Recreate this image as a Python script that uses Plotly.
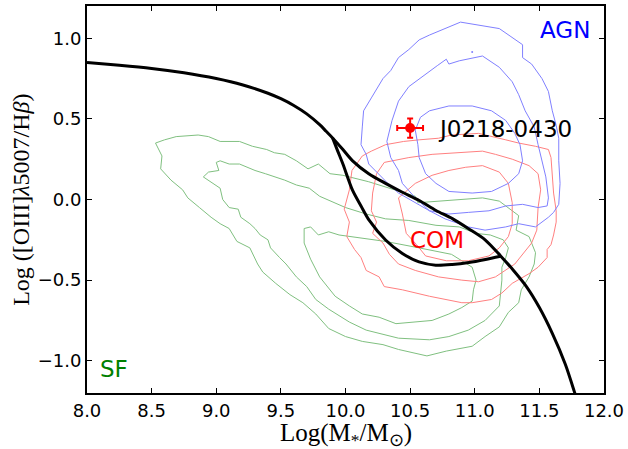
import plotly.graph_objects as go

# ---------------- data ----------------
# MEx demarcation curves
upper_x = [8.00, 8.25, 8.50, 8.75, 9.00, 9.20, 9.40, 9.50, 9.60, 9.70, 9.80, 9.85, 9.90,
           9.98, 10.055, 10.18, 10.31, 10.44, 10.57, 10.70, 10.83, 10.95, 11.08, 11.20,
           11.30, 11.40, 11.50, 11.60, 11.70, 11.77, 11.80]
upper_y = [0.850, 0.833, 0.813, 0.786, 0.750, 0.712, 0.659, 0.625, 0.583, 0.531, 0.464,
           0.423, 0.382, 0.31, 0.24, 0.16, 0.10, 0.045, -0.006, -0.068, -0.12, -0.18,
           -0.25, -0.35, -0.44, -0.54, -0.67, -0.83, -1.02, -1.19, -1.27]
lower_x = [9.90, 9.94, 9.98, 10.055, 10.12, 10.184, 10.312, 10.44, 10.569, 10.698, 10.826,
           10.955, 11.083, 11.20]
lower_y = [0.382, 0.30, 0.22, 0.056, -0.04, -0.13, -0.253, -0.335, -0.387, -0.407, -0.403,
           -0.391, -0.372, -0.352]

# SF (green) contours
sf1_x = [8.53, 8.58, 8.57, 8.65, 8.74, 8.78, 8.87, 8.96, 9.03, 9.10, 9.16, 9.26, 9.32, 9.36,
         9.46, 9.57, 9.67, 9.77, 9.87, 10.00, 10.13, 10.29, 10.41, 10.63, 10.78, 10.98,
         11.08, 11.19, 11.26, 11.34, 11.36, 11.42, 11.46, 11.47, 11.42, 11.32, 11.34, 11.29,
         11.19, 11.06, 10.88, 10.70, 10.56, 10.54, 10.31, 10.18, 9.98, 9.88, 9.79, 9.71,
         9.62, 9.53, 9.45, 9.39, 9.28, 9.18, 9.03, 8.94, 8.86, 8.69, 8.60, 8.53]
sf1_y = [0.35, 0.27, 0.19, 0.12, 0.06, 0.01, -0.05, -0.11, -0.15, -0.18, -0.26, -0.30,
         -0.40, -0.45, -0.52, -0.59, -0.64, -0.71, -0.80, -0.85, -0.88, -0.90, -0.93, -0.97,
         -0.94, -0.91, -0.85, -0.79, -0.70, -0.64, -0.56, -0.48, -0.40, -0.33, -0.23, -0.19,
         -0.10, -0.07, -0.01, 0.01, 0.00, -0.01, -0.02, 0.02, 0.08, 0.11, 0.15, 0.16, 0.22,
         0.19, 0.24, 0.28, 0.29, 0.31, 0.33, 0.36, 0.36, 0.39, 0.40, 0.39, 0.37, 0.35]
sf2_x = [8.90, 8.94, 9.02, 9.00, 9.03, 9.10, 9.18, 9.30, 9.38, 9.53, 9.62, 9.72, 9.80, 10.00,
         10.16, 10.31, 10.49, 10.70, 10.88, 11.01, 11.12, 11.22, 11.26, 11.24, 11.21, 11.21,
         11.20, 11.19, 11.08, 10.95, 10.80, 10.65, 10.41, 10.16, 10.03, 9.87, 9.77, 9.70,
         9.62, 9.54, 9.49, 9.42, 9.40, 9.34, 9.30, 9.26, 9.19, 9.17, 9.10, 9.05, 9.03, 8.94,
         8.90]
sf2_y = [0.14, 0.17, 0.18, 0.23, 0.24, 0.22, 0.22, 0.18, 0.16, 0.12, 0.09, 0.07, 0.02, -0.05,
         -0.09, -0.12, -0.13, -0.16, -0.17, -0.21, -0.22, -0.25, -0.30, -0.36, -0.42, -0.50,
         -0.58, -0.66, -0.75, -0.81, -0.85, -0.87, -0.86, -0.81, -0.76, -0.68, -0.62, -0.54,
         -0.48, -0.40, -0.36, -0.30, -0.25, -0.22, -0.18, -0.15, -0.11, -0.06, -0.05, 0.00,
         0.07, 0.12, 0.14]
sf3_x = [9.68, 9.73, 9.79, 9.87, 9.95, 10.05, 10.31, 10.57, 10.82, 10.98, 11.01, 10.99, 10.98,
         10.90, 10.80, 10.67, 10.39, 10.26, 10.13, 10.03, 9.92, 9.80, 9.73, 9.68, 9.68]
sf3_y = [-0.18, -0.17, -0.22, -0.20, -0.22, -0.23, -0.26, -0.30, -0.34, -0.42, -0.50, -0.56,
         -0.63, -0.67, -0.71, -0.75, -0.77, -0.73, -0.71, -0.66, -0.60, -0.48, -0.37, -0.27,
         -0.18]

# COM (red) contours
com1_x = [10.13, 10.20, 10.31, 10.45, 10.57, 10.72, 10.82, 11.03, 11.24, 11.34, 11.47, 11.57,
          11.59, 11.60, 11.61, 11.63, 11.63, 11.61, 11.59, 11.56, 11.56, 11.49, 11.42, 11.29,
          11.21, 11.13, 10.98, 10.90, 10.65, 10.44, 10.30, 10.26, 10.16, 10.12, 10.07, 10.01,
          10.03, 9.99, 10.03, 10.05, 10.13]
com1_y = [0.27, 0.30, 0.34, 0.36, 0.37, 0.38, 0.40, 0.41, 0.37, 0.35, 0.33, 0.31, 0.26, 0.14,
          0.04, -0.07, -0.14, -0.22, -0.28, -0.31, -0.36, -0.42, -0.46, -0.52, -0.58, -0.62,
          -0.64, -0.64, -0.60, -0.56, -0.54, -0.48, -0.44, -0.36, -0.31, -0.23, -0.14, -0.06,
          0.06, 0.18, 0.27]
com2_x = [10.30, 10.49, 10.67, 10.88, 11.06, 11.16, 11.29, 11.42, 11.49, 11.51, 11.49, 11.48,
          11.44, 11.31, 11.16, 11.03, 10.90, 10.72, 10.54, 10.41, 10.34, 10.29, 10.21, 10.24,
          10.20, 10.21, 10.24, 10.30]
com2_y = [0.23, 0.26, 0.28, 0.29, 0.30, 0.28, 0.25, 0.21, 0.16, 0.06, -0.05, -0.19, -0.27,
          -0.40, -0.48, -0.51, -0.50, -0.48, -0.44, -0.40, -0.34, -0.27, -0.21, -0.14, -0.07,
          0.04, 0.16, 0.23]
com3_x = [10.41, 10.54, 10.67, 10.80, 10.93, 11.06, 11.19, 11.26, 11.29, 11.29, 11.26, 11.19,
          11.11, 10.95, 10.78, 10.62, 10.55, 10.47, 10.44, 10.41]
com3_y = [0.01, 0.10, 0.15, 0.18, 0.20, 0.21, 0.17, 0.10, -0.02, -0.15, -0.23, -0.30, -0.35,
          -0.38, -0.38, -0.35, -0.28, -0.21, -0.09, 0.01]

# AGN (blue) contours
agn1_x = [10.89, 11.06, 11.19, 11.28, 11.37, 11.37, 11.44, 11.52, 11.57, 11.60, 11.63, 11.65,
          11.65, 11.66, 11.65, 11.61, 11.57, 11.47, 11.34, 11.24, 11.08, 10.95, 10.77, 10.65,
          10.52, 10.41, 10.34, 10.29, 10.24, 10.18, 10.16, 10.12, 10.13, 10.14, 10.20, 10.23,
          10.29, 10.35, 10.41, 10.49, 10.57, 10.65, 10.80, 10.89]
agn1_y = [1.10, 1.08, 1.06, 1.01, 0.96, 0.88, 0.84, 0.75, 0.67, 0.55, 0.46, 0.38, 0.24, 0.10,
          -0.03, -0.08, -0.11, -0.17, -0.15, -0.17, -0.19, -0.17, -0.12, -0.07, -0.01, 0.04,
          0.09, 0.13, 0.17, 0.22, 0.28, 0.34, 0.45, 0.55, 0.63, 0.67, 0.75, 0.80, 0.88, 0.93,
          0.99, 1.02, 1.07, 1.10]
agn2_x = [10.71, 10.78, 10.80, 10.88, 11.06, 11.19, 11.29, 11.34, 11.39, 11.46, 11.49, 11.52,
          11.55, 11.57, 11.56, 11.49, 11.37, 11.24, 11.11, 10.95, 10.80, 10.65, 10.54, 10.44,
          10.41, 10.35, 10.32, 10.36, 10.41, 10.49, 10.54, 10.62, 10.71]
agn2_y = [0.83, 0.87, 0.84, 0.86, 0.89, 0.82, 0.73, 0.65, 0.55, 0.45, 0.34, 0.24, 0.14, 0.01,
          -0.04, -0.05, -0.03, -0.04, -0.07, -0.08, -0.09, -0.07, 0.01, 0.10, 0.18, 0.26,
          0.36, 0.49, 0.61, 0.70, 0.73, 0.78, 0.83]
agn3_x = [10.58, 10.65, 10.80, 10.98, 11.13, 11.24, 11.31, 11.35, 11.37, 11.34, 11.26, 11.13,
          10.98, 10.80, 10.70, 10.62, 10.57, 10.56, 10.54, 10.58]
agn3_y = [0.51, 0.55, 0.58, 0.58, 0.55, 0.49, 0.41, 0.34, 0.24, 0.16, 0.10, 0.05, 0.04, 0.05,
          0.10, 0.16, 0.26, 0.34, 0.43, 0.51]
agn_dot_x = [10.98]
agn_dot_y = [0.915]

# Object J0218-0430
obj_x = [10.50]
obj_y = [0.443]
obj_xerr = [0.10]
obj_yerr = [0.06]
obj_name = "J0218-0430"

xtick_vals = [8.0, 8.5, 9.0, 9.5, 10.0, 10.5, 11.0, 11.5, 12.0]
xtick_text = ["8.0", "8.5", "9.0", "9.5", "10.0", "10.5", "11.0", "11.5", "12.0"]
ytick_vals = [-1.0, -0.5, 0.0, 0.5, 1.0]
ytick_text = ["\u22121.0", "\u22120.5", "0.0", "0.5", "1.0"]

# ---------------- figure ----------------
GREEN = "#80c080"
RED = "#ff8080"
BLUE = "#8080ff"

fig = go.Figure()

def contour(xs, ys, color):
    fig.add_trace(go.Scatter(x=xs, y=ys, mode="lines",
                             line=dict(color=color, width=1), hoverinfo="skip",
                             showlegend=False))

for xs, ys in [(sf1_x, sf1_y), (sf2_x, sf2_y), (sf3_x, sf3_y)]:
    contour(xs, ys, GREEN)
for xs, ys in [(com1_x, com1_y), (com2_x, com2_y), (com3_x, com3_y)]:
    contour(xs, ys, RED)
for xs, ys in [(agn1_x, agn1_y), (agn2_x, agn2_y), (agn3_x, agn3_y)]:
    contour(xs, ys, BLUE)
fig.add_trace(go.Scatter(x=agn_dot_x, y=agn_dot_y, mode="markers",
                         marker=dict(color=BLUE, size=2), showlegend=False))

fig.add_trace(go.Scatter(x=upper_x, y=upper_y, mode="lines",
                         line=dict(color="black", width=3, shape="spline", smoothing=0.8),
                         showlegend=False))
fig.add_trace(go.Scatter(x=lower_x, y=lower_y, mode="lines",
                         line=dict(color="black", width=3, shape="spline", smoothing=0.8),
                         showlegend=False))

fig.add_trace(go.Scatter(x=obj_x, y=obj_y, mode="markers",
                         marker=dict(color="red", size=10),
                         error_x=dict(type="data", array=obj_xerr, color="red",
                                      thickness=2, width=3),
                         error_y=dict(type="data", array=obj_yerr, color="red",
                                      thickness=2, width=3),
                         showlegend=False))

TXT = "DejaVu Sans"
fig.add_annotation(x=10.70, y=0.435, text=obj_name, showarrow=False, xanchor="left",
                   yanchor="middle", font=dict(family=TXT, size=23, color="black"))
fig.add_annotation(x=11.70, y=1.05, text="AGN", showarrow=False, xanchor="center",
                   yanchor="middle", font=dict(family=TXT, size=23, color="#0000ff"))
fig.add_annotation(x=10.71, y=-0.25, text="COM", showarrow=False, xanchor="center",
                   yanchor="middle", font=dict(family=TXT, size=23, color="#ff0000"))
fig.add_annotation(x=8.21, y=-1.05, text="SF", showarrow=False, xanchor="center",
                   yanchor="middle", font=dict(family=TXT, size=23, color="#008000"))

SERIF = "Liberation Serif"
fig.add_annotation(xref="paper", yref="paper", x=0.5, y=-0.108,
                   text="Log(M<sub>*</sub>/M<sub>\u2299</sub>)", showarrow=False,
                   xanchor="center", yanchor="middle",
                   font=dict(family=SERIF, size=25, color="black"))
fig.add_annotation(xref="paper", yref="paper", x=-0.129, y=0.5, textangle=-90,
                   text="Log ([OIII]<i>\u03bb</i>5007/H<i>\u03b2</i>)", showarrow=False,
                   xanchor="center", yanchor="middle",
                   font=dict(family=SERIF, size=24, color="black"))

axis_common = dict(showgrid=False, zeroline=False, showline=True, linecolor="black",
                   linewidth=2, mirror="ticks", ticks="inside", ticklen=5, tickwidth=1,
                   tickcolor="black", tickfont=dict(family=TXT, size=18, color="black"))
fig.update_xaxes(range=[8, 12], tickvals=xtick_vals, ticktext=xtick_text, **axis_common)
fig.update_yaxes(range=[-1.2, 1.2], tickvals=ytick_vals, ticktext=ytick_text, **axis_common)

fig.update_layout(width=628, height=449, margin=dict(l=87, r=23, t=4, b=56),
                  plot_bgcolor="white", paper_bgcolor="white", showlegend=False)

fig.write_html("out.html", config={"displayModeBar": False},
               post_script="document.body.style.margin='0px';"
                           "document.body.style.overflow='hidden';")
